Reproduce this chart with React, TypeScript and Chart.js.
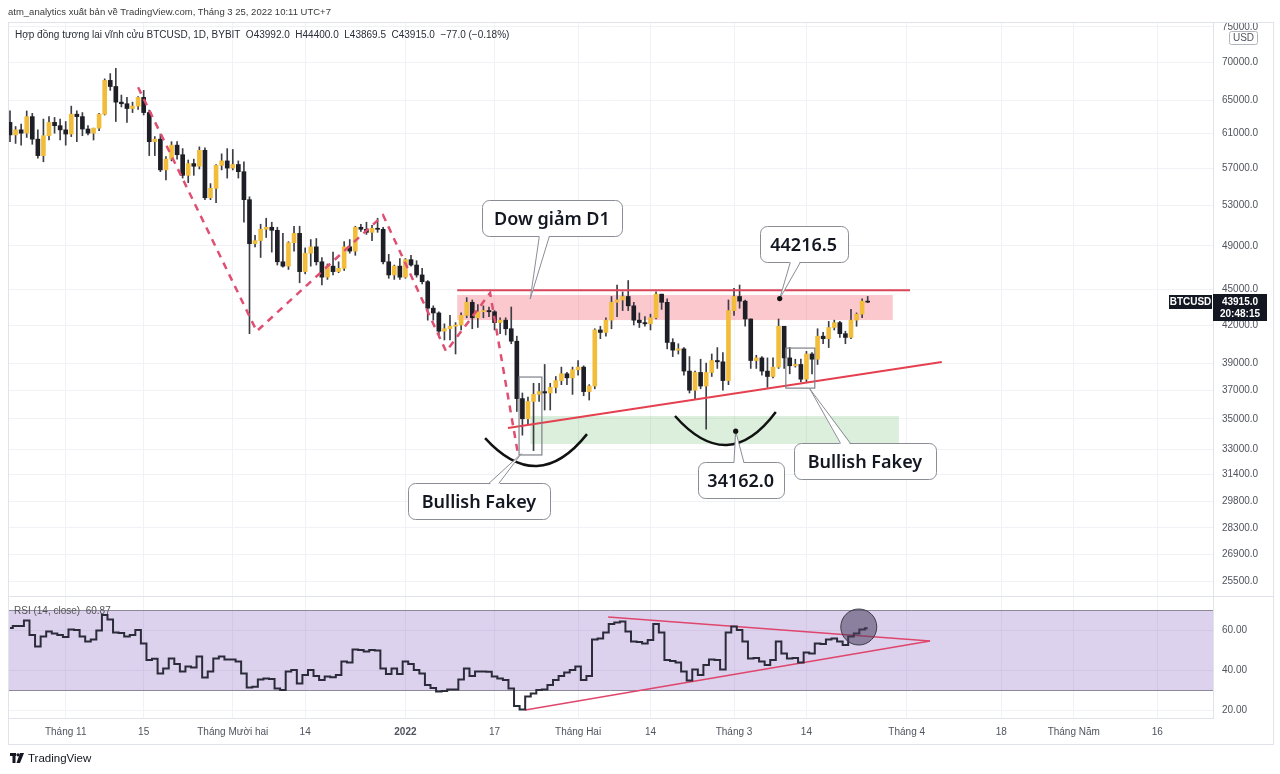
import React, { useEffect, useRef } from 'react';
import { Chart, registerables } from 'chart.js';

Chart.register(...registerables);

// ---------- DATA (day index 0 = 22 Oct 2021, daily BTCUSD BYBIT) ----------
const opens = [62300,60800,61400,61000,63000,60300,58400,60700,62300,61900,
61400,60900,63300,63000,61500,61000,61600,63300,67600,66800,
64800,64600,64000,64300,65400,63500,60000,60300,56800,58000,
59600,58500,56200,57500,57200,59000,53800,54800,57300,57800,
57000,57400,56600,53600,49200,49500,50600,50800,50500,47500,
47100,49300,50200,46600,48300,48900,47500,46100,47100,46600,
46900,48900,48500,50800,50600,50300,50700,50600,47500,46300,
47100,46100,47700,47200,46300,45700,43400,43000,41500,41700,
41900,42000,42800,43900,42600,43100,43200,43100,42200,42400,
41700,40700,36400,35000,36200,36700,36900,36800,37200,37700,
38200,37900,38500,38700,36900,37300,41600,41400,42400,43900,
44100,44400,43600,42400,42200,42100,42600,44600,43900,40600,
40000,40100,38400,37000,38300,37300,38300,39200,39100,37700,
43200,44400,44000,42500,39200,39400,38400,38000,38700,41900,
39400,38800,38900,37800,39700,39300,41100,40900,41800,42200,
41300,41000,42400,42900,43992];

const highs = [63700,61800,62100,63700,63400,61400,62700,63000,62900,62700,
62400,64300,63700,63500,61900,61600,63400,67800,68500,69200,
65700,65400,64800,65500,66300,63800,60600,60900,58300,60000,
60000,59200,57900,58000,59400,59300,55300,57400,58600,59200,
59100,57800,57700,53900,50000,51100,51700,51300,50800,50200,
49400,50900,50900,48800,49600,49700,47900,47300,48400,47500,
49400,49600,50900,51100,51300,51000,51700,50800,48200,47200,
47800,47800,48100,47600,46900,45800,43600,43100,42100,42800,
42200,43000,44300,44100,43700,43600,43500,43200,42600,42600,
43500,41100,36800,36500,37500,37500,38900,37500,38000,38700,
38300,38700,39200,38800,37400,41700,41900,42600,44400,45400,
44800,45800,43900,43000,42700,42900,44800,44600,44200,40900,
40500,40200,39500,38400,39300,39000,39700,40200,39800,44100,
45100,45400,44100,42500,39600,39500,39400,39400,42500,41900,
40200,39300,39300,39900,39800,41700,41400,42300,42400,42300,
41500,43300,43000,44200,44400];

const lows = [60000,59800,59600,60500,59700,58100,57700,60200,61000,60200,
59600,60600,60000,60700,60800,60200,61300,63200,66300,62400,
64200,62300,63500,63900,63200,58400,58400,56600,55700,57800,
58000,55900,55400,56200,56900,53600,53600,53300,56800,55900,
56800,55900,51300,41300,48900,47900,49800,48400,47200,47000,
46800,48500,45600,46400,47100,47200,45400,45900,46300,46500,
46700,48300,48100,50400,50100,49500,50300,47300,46000,45900,
45900,46000,47100,46100,45500,42400,42400,41000,40800,40800,
39700,41600,42600,41700,41800,42600,42700,41600,41300,41200,
40500,35500,33900,34600,32900,36200,35600,35600,36800,37400,
37400,36700,38100,36600,36300,37100,40900,41100,41700,42700,
43200,43200,42000,41800,41900,41600,42500,43300,40100,39500,
39700,38100,36800,36400,37100,34300,38000,38600,37000,37400,
42800,43400,41900,38600,38600,38100,37200,37900,38600,38600,
38200,38700,37600,37600,38200,38900,40500,40200,41600,41000,
40500,40900,41900,42600,43869.5];

const closes = [60800,61400,61000,63000,60300,58400,60700,62300,61900,61400,
60900,63300,63000,61500,61000,61600,63300,67600,66800,64800,
64600,64000,64300,65400,63500,60000,60300,56800,58000,59600,
58500,56200,57500,57200,59000,53800,54800,57300,57800,57000,
57400,56600,53600,49200,49500,50600,50800,50500,47500,47100,
49300,50200,46600,48300,48900,47500,46100,47100,46600,46900,
48900,48500,50800,50600,50300,50700,50600,47500,46300,47100,
46100,47700,47200,46300,45700,43400,43000,41500,41700,41900,
42000,42800,43900,42600,43100,43200,43100,42200,42400,41700,
40700,36400,35000,36200,36700,36900,36800,37200,37700,38200,
37900,38500,38700,36900,37300,41600,41400,42400,43900,44100,
44400,43600,42400,42200,42100,42600,44600,43900,40600,40000,
40100,38400,37000,38300,37300,38300,39200,39100,37700,43200,
44400,44000,42500,39200,39400,38400,38000,38700,41900,39400,
38800,38900,37800,39700,39300,41100,40900,41800,42200,41300,
41000,42400,42900,44000,43915];

const rsiValues = [61,62,62,64.7,57.5,51.7,56.7,59.2,58.3,57.5,
56.5,60.3,60,56.7,54.2,55.3,59.7,67.5,65.3,58.7,
58.5,56.7,57.5,60,53.3,45,45.6,38.3,40.8,45.8,
43,39.2,41.7,41.2,46.7,36.3,39.2,45.8,46.7,45.3,
45.2,44.2,38.3,31.3,31.6,35.3,35.8,35.5,30.8,30,
39.2,40,33.3,37.5,40,37,35,36.7,36.4,37.5,
44.2,43.8,50.3,50,49.2,50,49.7,40.8,38,40.8,
38,44.2,43,40,38.3,32.5,31,29.2,29.5,30.3,
30.3,35.3,40.8,37,39.2,39.3,39.1,36.7,35.8,35,
30.8,22,20.3,26.7,28.3,30,30.3,32.5,35,37,
38.7,40,41.7,35,37,55.3,55.8,58.7,63,63.7,
64.2,59.2,54.2,54,53.3,55,63,58.7,45,44.5,
43.7,39.2,34.7,40.3,37.5,42.5,45.3,45,40.3,58.7,
61.7,60,54.2,45.8,46,44.2,42.5,45,54.2,48.3,
45.8,46,43.7,48.7,48.3,53.3,53,55.3,55.8,54.2,
52.5,56.7,58.3,60.3,60.87];

const priceTicks = [75000,70000,65000,61000,57000,53000,49000,45000,42000,39000,37000,35000,33000,31400,29800,28300,26900,25500];
const rsiTicks = [60, 40, 20];
const rsiBand = [30, 70];
const xTickDays = [10,24,40,53,71,87,102,115,130,143,161,178,191,206];
const xTickLabels = ['Tháng 11','15','Tháng Mười hai','14','2022','17','Tháng Hai','14','Tháng 3','14','Tháng 4','18','Tháng Năm','16'];

// annotations (day index, price)
const dowZigzag = [[23,66700],[44.3,41500],[67,52000],[78.3,39900],[86.2,44700],[91.2,32700]];
const resistanceLine = [[80.3,44950],[161.6,44950]];
const supportTrend = [[89.4,34370],[167.3,39080]];
const supplyZone = [80.3,158.5,42410,44530];
const demandZone = [93.4,159.6,33320,35190];
const fakeyBoxA = [91.4,95.5,32620,37960];
const fakeyBoxB = [139.3,144.5,37150,40160];
const arcLeft = [[85.3,33710],[94.6,31930],[103.6,33970]];
const arcRight = [[119.4,35190],[128.7,33260],[137.5,35460]];
const markerDots = [[138.2,44216.5],[130.3,34162]];
const calloutTexts = ['Dow giảm D1','44216.5','Bullish Fakey','Bullish Fakey','34162.0'];
const calloutAnchors = [[97.3,51720],[142.5,49170],[84.2,29820],[153.5,32230],[131.2,31070]];
const calloutTargets = [[93.4,44180],[138.2,44216.5],[91.8,32700],[143.6,37100],[130.3,34162]];
// RSI pane annotations (day index, RSI)
const rsiUpperLine = [[107.4,66.5],[165.2,54.5]];
const rsiLowerLine = [[92.5,20],[165.2,54.5]];
const rsiHighlight = [152.4,61.5];

// ---------- STYLE ----------
const UP = '#F3BD3C';
const DOWN = '#1E1F26';
const WICK = '#3c3d45';
const GRID = '#f1f2f5';
const FRAME = '#e0e3eb';
const AXIS_TEXT = '#50535e';
const CALLOUT_W = [140, 88, 142, 142, 86];
const CALLOUT_H = 36;

const pts = (arr: number[][]) => arr.map(p => ({ x: p[0], y: p[1] }));

const decor = {
  id: 'tvDecor',
  beforeDatasetsDraw(chart: any) {
    const { ctx, chartArea: a } = chart;
    const xs = chart.scales.x, ys = chart.scales.y, rs = chart.scales.y2;
    ctx.save();
    const t = rs.getPixelForValue(rsiBand[1]);
    const b = rs.getPixelForValue(rsiBand[0]);
    ctx.fillStyle = 'rgba(126, 87, 194, 0.27)';
    ctx.fillRect(a.left, t, a.right - a.left, b - t);
    ctx.strokeStyle = '#8d899b';
    ctx.lineWidth = 1;
    [t, b].forEach((py: number) => {
      ctx.beginPath();
      ctx.moveTo(a.left, Math.round(py) + 0.5);
      ctx.lineTo(a.right, Math.round(py) + 0.5);
      ctx.stroke();
    });
    const zone = (z: number[], color: string) => {
      const x0 = xs.getPixelForValue(z[0]);
      const x1 = xs.getPixelForValue(z[1]);
      const y0 = ys.getPixelForValue(z[3]);
      const y1 = ys.getPixelForValue(z[2]);
      ctx.fillStyle = color;
      ctx.fillRect(x0, y0, x1 - x0, y1 - y0);
    };
    zone(supplyZone, 'rgba(242, 54, 69, 0.27)');
    zone(demandZone, 'rgba(76, 175, 80, 0.2)');
    ctx.restore();
  },
  afterDatasetsDraw(chart: any) {
    const { ctx } = chart;
    const xs = chart.scales.x, ys = chart.scales.y, rs = chart.scales.y2;
    const px = (d: number) => xs.getPixelForValue(d);
    const py = (v: number) => ys.getPixelForValue(v);
    ctx.save();
    // fakey boxes
    ctx.strokeStyle = '#7d8089';
    ctx.lineWidth = 1.2;
    [fakeyBoxA, fakeyBoxB].forEach(bx => {
      const x0 = px(bx[0]), x1 = px(bx[1]), y0 = py(bx[3]), y1 = py(bx[2]);
      ctx.strokeRect(x0, y0, x1 - x0, y1 - y0);
    });
    // arcs
    ctx.strokeStyle = '#111';
    ctx.lineWidth = 2.5;
    [arcLeft, arcRight].forEach(arc => {
      const s = { x: px(arc[0][0]), y: py(arc[0][1]) };
      const m = { x: px(arc[1][0]), y: py(arc[1][1]) };
      const e = { x: px(arc[2][0]), y: py(arc[2][1]) };
      const cx = 2 * m.x - (s.x + e.x) / 2;
      const cy = 2 * m.y - (s.y + e.y) / 2;
      ctx.beginPath();
      ctx.moveTo(s.x, s.y);
      ctx.quadraticCurveTo(cx, cy, e.x, e.y);
      ctx.stroke();
    });
    // RSI highlight circle
    ctx.beginPath();
    ctx.arc(px(rsiHighlight[0]), rs.getPixelForValue(rsiHighlight[1]), 18, 0, Math.PI * 2);
    ctx.fillStyle = 'rgba(72, 62, 92, 0.55)';
    ctx.fill();
    ctx.strokeStyle = '#3d3a48';
    ctx.lineWidth = 1;
    ctx.stroke();
    // callouts
    calloutTexts.forEach((text, i) => {
      const cx = px(calloutAnchors[i][0]);
      const cy = py(calloutAnchors[i][1]);
      const tx = px(calloutTargets[i][0]);
      const ty = py(calloutTargets[i][1]);
      const w = CALLOUT_W[i], h = CALLOUT_H;
      const left = Math.round(cx - w / 2) + 0.5, top = Math.round(cy - h / 2) + 0.5;
      ctx.fillStyle = '#fff';
      ctx.strokeStyle = '#8a8d96';
      ctx.lineWidth = 1;
      ctx.beginPath();
      ctx.roundRect(left, top, w, h, 7);
      ctx.fill();
      ctx.stroke();
      const below = ty > cy;
      const edge = below ? top + h : top;
      let bx = cx + (tx - cx) * 0.35;
      bx = Math.max(left + 12, Math.min(left + w - 12, bx));
      const hw = 5;
      const inset = below ? -1.5 : 1.5;
      ctx.beginPath();
      ctx.moveTo(bx - hw, edge + inset);
      ctx.lineTo(tx, ty);
      ctx.lineTo(bx + hw, edge + inset);
      ctx.closePath();
      ctx.fill();
      ctx.beginPath();
      ctx.moveTo(bx - hw, edge);
      ctx.lineTo(tx, ty);
      ctx.lineTo(bx + hw, edge);
      ctx.stroke();
      ctx.fillStyle = '#131722';
      ctx.font = '600 18px "Noto Sans", "Open Sans", sans-serif';
      ctx.textAlign = 'center';
      ctx.textBaseline = 'middle';
      ctx.fillText(text, cx, top + h / 2 + 1);
    });
    // dots
    ctx.fillStyle = '#111';
    markerDots.forEach(d => {
      ctx.beginPath();
      ctx.arc(px(d[0]), py(d[1]), 2.6, 0, Math.PI * 2);
      ctx.fill();
    });
    ctx.restore();
  },
  afterDraw(chart: any) {
    const { ctx, chartArea: a } = chart;
    const ys = chart.scales.y;
    ctx.save();
    ctx.strokeStyle = FRAME;
    ctx.lineWidth = 1;
    // outer frame
    ctx.strokeRect(a.left + 0.5, a.top + 0.5, ys.right - a.left - 1, chart.scales.x.bottom - a.top);
    // pane separator
    const sep = Math.round(ys.bottom) + 0.5;
    ctx.beginPath();
    ctx.moveTo(a.left, sep);
    ctx.lineTo(ys.right, sep);
    ctx.stroke();
    // USD badge
    ctx.fillStyle = '#fff';
    ctx.strokeStyle = '#b2b5be';
    ctx.beginPath();
    ctx.roundRect(a.right + 16.5, a.top + 9.5, 28, 13, 2);
    ctx.fill();
    ctx.stroke();
    ctx.fillStyle = '#50535e';
    ctx.font = '10px "Liberation Sans", Arial, sans-serif';
    ctx.textAlign = 'center';
    ctx.textBaseline = 'middle';
    ctx.fillText('USD', a.right + 30.5, a.top + 16.5);
    // last price tags
    const last = closes[closes.length - 1];
    const y = Math.round(ys.getPixelForValue(last));
    ctx.fillStyle = '#131722';
    ctx.fillRect(a.right - 44, y - 7, 43, 14);
    ctx.fillRect(a.right, y - 8, 54, 27);
    ctx.fillStyle = '#fff';
    ctx.font = 'bold 10px "Liberation Sans", Arial, sans-serif';
    ctx.fillText('BTCUSD', a.right - 22.5, y);
    ctx.fillText(last.toFixed(1), a.right + 27, y);
    ctx.font = 'bold 10px "Liberation Sans", Arial, sans-serif';
    ctx.fillText('20:48:15', a.right + 27, y + 12);
    ctx.restore();
  },
};

export default function App() {
  const ref = useRef<HTMLCanvasElement>(null);
  useEffect(() => {
    document.body.style.margin = '0';
    const days = opens.map((_, i) => i);
    const colors = days.map(i => (closes[i] >= opens[i] ? UP : DOWN));
    Chart.defaults.font.family = '"Liberation Sans", Arial, sans-serif';
    Chart.defaults.font.size = 10;
    const chart = new Chart(ref.current as HTMLCanvasElement, {
      type: 'bar',
      data: {
        datasets: [
          {
            type: 'line', label: 'zigzag', data: pts(dowZigzag), xAxisID: 'x', yAxisID: 'y',
            borderColor: '#df4f72', borderWidth: 2.5, borderDash: [7, 6], pointRadius: 0, fill: false, order: 0,
          } as any,
          {
            type: 'line', label: 'resistance', data: pts(resistanceLine), xAxisID: 'x', yAxisID: 'y',
            borderColor: '#d9465a', borderWidth: 2, pointRadius: 0, fill: false, order: 0,
          },
          {
            type: 'line', label: 'trend', data: pts(supportTrend), xAxisID: 'x', yAxisID: 'y',
            borderColor: '#e5404f', borderWidth: 2, pointRadius: 0, fill: false, order: 0,
          },
          {
            type: 'bar', label: 'bodies', data: days.map(i => ({ x: i, y: [opens[i], closes[i]] })) as any,
            xAxisID: 'x', yAxisID: 'y', backgroundColor: colors, borderWidth: 0,
            barThickness: 4, grouped: false, minBarLength: 1, order: 1,
          },
          {
            type: 'bar', label: 'wicks', data: days.map(i => ({ x: i, y: [lows[i], highs[i]] })) as any,
            xAxisID: 'x', yAxisID: 'y', backgroundColor: WICK, borderWidth: 0,
            barThickness: 1, grouped: false, minBarLength: 1, order: 2,
          },
          {
            type: 'line', label: 'RSI', data: days.map(i => ({ x: i, y: rsiValues[i] })), xAxisID: 'x', yAxisID: 'y2',
            borderColor: '#2c2b3a', borderWidth: 2, stepped: 'middle', pointRadius: 0, fill: false, order: 0,
          },
          {
            type: 'line', label: 'rsiUpper', data: pts(rsiUpperLine), xAxisID: 'x', yAxisID: 'y2',
            borderColor: '#e0466c', borderWidth: 1.6, pointRadius: 0, fill: false, order: 0,
          },
          {
            type: 'line', label: 'rsiLower', data: pts(rsiLowerLine), xAxisID: 'x', yAxisID: 'y2',
            borderColor: '#e0466c', borderWidth: 1.6, pointRadius: 0, fill: false, order: 0,
          },
        ],
      },
      options: {
        animation: false,
        responsive: false,
        events: [],
        layout: { padding: { left: 8, top: 22, right: 6, bottom: 30 } },
        plugins: { legend: { display: false }, tooltip: { enabled: false } },
        scales: {
          y: {
            type: 'logarithmic', position: 'right', stack: 'panes', stackWeight: 574,
            min: 24793, max: 75733,
            afterBuildTicks: (s: any) => { s.ticks = priceTicks.map(v => ({ value: v })); },
            afterFit: (s: any) => { s.width = 61; },
            ticks: {
              autoSkip: false, padding: 9, color: AXIS_TEXT, font: { size: 10 },
              callback: (v: any) => Number(v).toFixed(1),
            },
            grid: { color: GRID, drawTicks: false },
            border: { color: FRAME },
          },
          y2: {
            type: 'linear', position: 'right', stack: 'panes', stackWeight: 122,
            min: 16, max: 77,
            afterBuildTicks: (s: any) => { s.ticks = rsiTicks.map(v => ({ value: v })); },
            afterFit: (s: any) => { s.width = 61; },
            ticks: {
              autoSkip: false, padding: 9, color: AXIS_TEXT, font: { size: 10 },
              callback: (v: any) => Number(v).toFixed(2),
            },
            grid: { color: GRID, drawTicks: false },
            border: { color: FRAME },
          },
          x: {
            type: 'linear', position: 'bottom', min: -0.36, max: 216, offset: false,
            afterBuildTicks: (s: any) => { s.ticks = xTickDays.map(v => ({ value: v })); },
            afterFit: (s: any) => { s.height = 26; },
            ticks: {
              autoSkip: false, maxRotation: 0, padding: 8, color: AXIS_TEXT,
              font: (c: any) => ({ size: 10, weight: c.tick && c.tick.value === 71 ? 'bold' : 'normal' }),
              callback: (_v: any, i: number) => xTickLabels[i],
            },
            grid: { color: GRID, drawTicks: false, offset: false },
            border: { color: FRAME },
          },
        },
      } as any,
      plugins: [decor],
    });
    return () => chart.destroy();
  }, []);

  const textBase: React.CSSProperties = {
    position: 'absolute', whiteSpace: 'pre', fontFamily: '"Liberation Sans", Arial, sans-serif',
  };
  return (
    <div style={{ position: 'relative', width: 1280, height: 774, background: '#fff', overflow: 'hidden' }}>
      <canvas ref={ref} width={1280} height={774} style={{ position: 'absolute', left: 0, top: 0, width: 1280, height: 774 }} />
      <div style={{ ...textBase, left: 8, top: 6, fontSize: 9.5, color: '#3a3a3a' }}>
        atm_analytics xuất bản về TradingView.com, Tháng 3 25, 2022 10:11 UTC+7
      </div>
      <div style={{ ...textBase, left: 15, top: 29, fontSize: 10, color: '#2a2e39' }}>
        {'Hợp đồng tương lai vĩnh cửu BTCUSD, 1D, BYBIT  O43992.0  H44400.0  L43869.5  C43915.0  −77.0 (−0.18%)'}
      </div>
      <div style={{ ...textBase, left: 14, top: 605, fontSize: 10, color: '#555' }}>
        {'RSI (14, close)  60.87'}
      </div>
      <div style={{ position: 'absolute', left: 10, top: 752, display: 'flex', alignItems: 'center', gap: 4 }}>
        <svg width="14" height="10" viewBox="0 0 14 10">
          <rect x="0" y="0" width="6" height="3" fill="#131722" />
          <rect x="2.5" y="0" width="3" height="10" fill="#131722" />
          <circle cx="8" cy="1.8" r="1.6" fill="#131722" />
          <polygon points="10,0 14,0 10,10 6.5,10" fill="#131722" />
        </svg>
        <span style={{ fontFamily: '"Liberation Sans", Arial, sans-serif', fontSize: 11.5, color: '#131722' }}>TradingView</span>
      </div>
    </div>
  );
}
